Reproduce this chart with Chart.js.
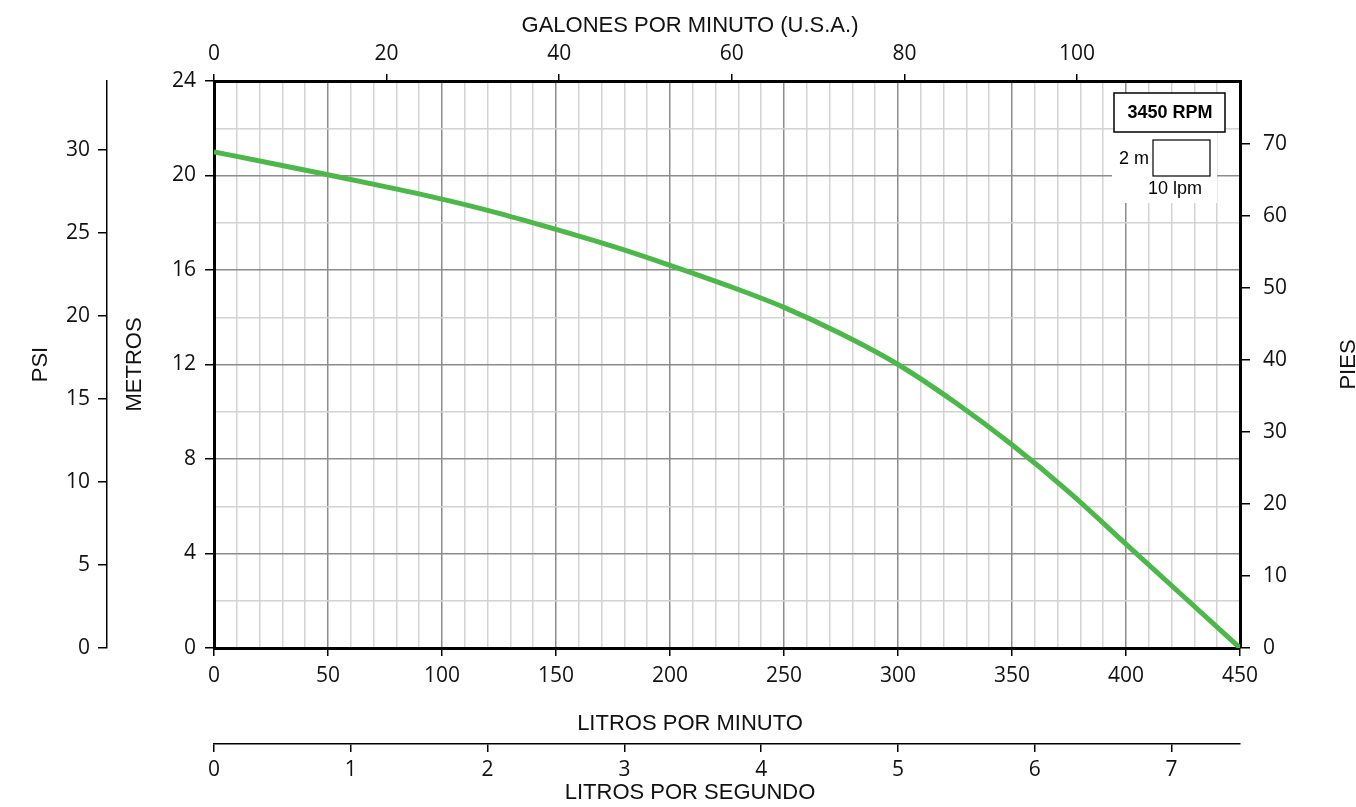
<!DOCTYPE html>
<html>
<head>
<meta charset="utf-8">
<title>Curva de bomba 3450 RPM</title>
<script src="https://cdn.jsdelivr.net/npm/chart.js@4.4.1/dist/chart.umd.min.js"></script>
<style>
  html, body { margin: 0; padding: 0; background: #fff; }
  #wrap { width: 1356px; height: 807px; }
</style>
</head>
<body>
<div id="wrap"><canvas id="curveChart" width="1356" height="807"></canvas></div>
<script>
// Curve: flow in lpm, head in metres
const caudalLpm = [0, 25, 50, 75, 100, 125, 150, 175, 200, 225, 250, 275, 300, 325, 350, 375, 400, 425, 450];
const alturaM   = [21.0, 20.52, 20.03, 19.53, 19.0, 18.4, 17.72, 17.0, 16.2, 15.35, 14.42, 13.3, 12.0, 10.4, 8.6, 6.6, 4.4, 2.2, 0];

// Ranges and labelled ticks of every axis
const lpmMax = 450;
const metrosMax = 24;
const lpmTicks = [0, 50, 100, 150, 200, 250, 300, 350, 400, 450];
const metrosTicks = [0, 4, 8, 12, 16, 20, 24];
const gpmTicks = [0, 20, 40, 60, 80, 100];
const piesTicks = [0, 10, 20, 30, 40, 50, 60, 70];
const psiTicks = [0, 5, 10, 15, 20, 25, 30];
const lpsTicks = [0, 1, 2, 3, 4, 5, 6, 7];

// unit conversions for the secondary axes
const LPM_PER_GPM = 3.78541;
const FT_PER_M = 3.28084;
const M_PER_PSI = 0.70307;

const ink = '#111';
const tickFont = { family: 'Open Sans', size: 21 };
const titleFont = { family: 'Liberation Sans', size: 22 };
const majorGrid = '#8c8c8c';
const minorGrid = '#d3d3d3';

const onMajor = (c, list) => c.tick && list.includes(c.tick.value);
const fixedTicks = list => scale => { scale.ticks = list.map(v => ({ value: v })); };

// titles that Chart.js can't place the same way (off-centre / reading upward)
const axisTitles = {
    id: 'axisTitles',
    afterDraw(chart) {
        const { ctx, scales } = chart;
        const cx = chart.width / 2 + 12;
        ctx.save();
        ctx.fillStyle = ink;
        ctx.font = '22px "Liberation Sans"';
        ctx.textAlign = 'center';
        ctx.textBaseline = 'alphabetic';
        ctx.fillText('GALONES POR MINUTO (U.S.A.)', cx, scales.x2.top + 32);
        ctx.fillText('LITROS POR MINUTO', cx, scales.x.bottom - 14);
        ctx.fillText('LITROS POR SEGUNDO', cx, scales.lps.bottom - 8);
        ctx.translate(scales.pies.right - 1, (chart.chartArea.top + chart.chartArea.bottom) / 2);
        ctx.rotate(-Math.PI / 2);
        ctx.fillText('PIES', 0, 0);
        ctx.restore();
    }
};

// "3450 RPM" label and grid scale key in the top right corner
const rpmKey = {
    id: 'rpmKey',
    afterDatasetsDraw(chart) {
        const { ctx, chartArea: a } = chart;
        ctx.save();
        ctx.fillStyle = '#fff';
        ctx.fillRect(a.right - 128, a.top + 51, 105, 71);
        ctx.fillRect(a.right - 126, a.top + 12, 111, 39);
        ctx.strokeStyle = '#000';
        ctx.lineWidth = 1.5;
        ctx.strokeRect(a.right - 126, a.top + 12, 111, 39);
        ctx.lineWidth = 1.2;
        ctx.strokeRect(a.right - 87, a.top + 59, 57, 36);
        ctx.fillStyle = '#000';
        ctx.textBaseline = 'middle';
        ctx.textAlign = 'center';
        ctx.font = 'bold 18px "Liberation Sans"';
        ctx.fillText('3450 RPM', a.right - 70, a.top + 32);
        ctx.font = '18px "Liberation Sans"';
        ctx.textAlign = 'right';
        ctx.fillText('2 m', a.right - 91, a.top + 78);
        ctx.textAlign = 'center';
        ctx.fillText('10 lpm', a.right - 65, a.top + 108);
        ctx.restore();
    }
};

const ctx = document.getElementById('curveChart').getContext('2d');
const curveChart = new Chart(ctx, {
    type: 'scatter',
    data: {
        datasets: [{
            label: '3450 RPM',
            data: caudalLpm.map((q, i) => ({ x: q, y: alturaM[i] })),
            showLine: true,
            borderColor: '#4cb849',
            borderWidth: 5,
            pointRadius: 0,
            cubicInterpolationMode: 'monotone',
            fill: false
        }]
    },
    options: {
        responsive: false,
        devicePixelRatio: 1,
        animation: false,
        layout: { padding: 0 },
        plugins: { legend: { display: false }, tooltip: { enabled: false } },
        scales: {
            x: {
                type: 'linear', position: 'bottom', weight: 0,
                min: 0, max: lpmMax,
                afterFit: s => { s.height = 96; },
                border: { color: '#000', width: 3 },
                grid: {
                    color: c => onMajor(c, lpmTicks) ? majorGrid : minorGrid,
                    lineWidth: 1.5,
                    tickColor: c => onMajor(c, lpmTicks) ? '#000' : 'rgba(0,0,0,0)',
                    tickLength: 8, tickWidth: 1.5
                },
                ticks: {
                    stepSize: 10, autoSkip: false, maxRotation: 0, minRotation: 0,
                    padding: 7, color: ink, font: tickFont,
                    callback: v => lpmTicks.includes(v) ? String(v) : ''
                },
                title: { display: false }
            },
            lps: {
                type: 'linear', axis: 'x', position: 'bottom', weight: 1,
                min: 0, max: lpmMax / 60,
                afterFit: s => { s.height = 63; },
                afterBuildTicks: fixedTicks(lpsTicks),
                border: { color: '#000', width: 1.5 },
                grid: { drawOnChartArea: false, color: '#000', lineWidth: 1.5, tickLength: 8 },
                ticks: { padding: 5, color: ink, font: tickFont, maxRotation: 0 }
            },
            x2: {
                type: 'linear', axis: 'x', position: 'top',
                min: 0, max: lpmMax / LPM_PER_GPM,
                afterFit: s => { s.height = 81; },
                afterBuildTicks: fixedTicks(gpmTicks),
                border: { color: '#000', width: 3 },
                grid: { drawOnChartArea: false, color: '#000', lineWidth: 1.5, tickLength: 7 },
                ticks: { padding: 7, color: ink, font: tickFont, maxRotation: 0 }
            },
            y: {
                type: 'linear', position: 'left', weight: 0,
                min: 0, max: metrosMax,
                afterFit: s => { s.width = 107; },
                border: { color: '#000', width: 3 },
                grid: {
                    color: c => onMajor(c, metrosTicks) ? majorGrid : minorGrid,
                    lineWidth: 1.5,
                    tickColor: c => onMajor(c, metrosTicks) ? '#000' : 'rgba(0,0,0,0)',
                    tickLength: 9, tickWidth: 1.5
                },
                ticks: {
                    stepSize: 2, autoSkip: false, padding: 9, color: ink, font: tickFont,
                    callback: v => metrosTicks.includes(v) ? String(v) : ''
                },
                title: { display: true, text: 'METROS', color: ink, font: titleFont, padding: { top: 15, bottom: 0 } }
            },
            psi: {
                type: 'linear', axis: 'y', position: 'left', weight: 1,
                min: 0, max: metrosMax / M_PER_PSI,
                afterFit: s => { s.width = 107; },
                afterBuildTicks: fixedTicks(psiTicks),
                border: { color: '#000', width: 1.5 },
                grid: { drawOnChartArea: false, color: '#000', lineWidth: 1.5, tickLength: 9 },
                ticks: { padding: 8, color: ink, font: tickFont },
                title: { display: true, text: 'PSI', color: ink, font: titleFont, padding: { top: 28, bottom: 0 } }
            },
            pies: {
                type: 'linear', axis: 'y', position: 'right',
                min: 0, max: metrosMax * FT_PER_M,
                afterFit: s => { s.width = 116; },
                afterBuildTicks: fixedTicks(piesTicks),
                border: { color: '#000', width: 3 },
                grid: { drawOnChartArea: false, color: '#000', lineWidth: 1.5, tickLength: 10 },
                ticks: { padding: 13, color: ink, font: tickFont }
            }
        }
    },
    plugins: [rpmKey, axisTitles]
});
</script>
</body>
</html>
